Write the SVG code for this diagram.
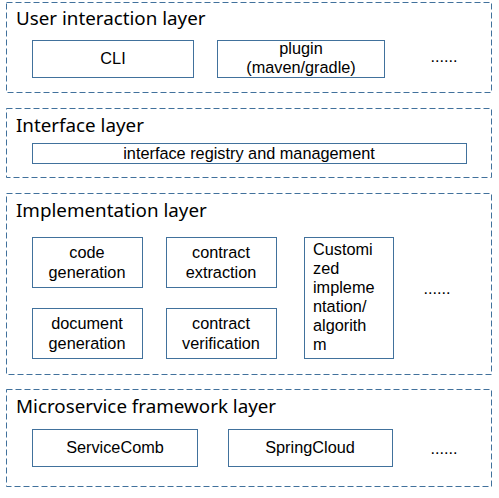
<svg xmlns="http://www.w3.org/2000/svg" width="499" height="498" viewBox="0 0 499 498">
<style>
.layer{fill:none;stroke:#41719C;stroke-width:1;stroke-dasharray:6 3}
.box{fill:#fff;stroke:#41719C;stroke-width:1}
.title{font-family:"Noto Sans",sans-serif;font-size:18.8px;fill:#000}
.t{font-family:"Liberation Sans",Arial,sans-serif;font-size:16.3px;fill:#000;text-anchor:middle}
.tl{font-family:"Liberation Sans",Arial,sans-serif;font-size:16.3px;fill:#000}
</style>
<rect width="499" height="498" fill="#fff"/>
<g id="layer-user">
<rect class="layer" x="6.5" y="2.5" width="485" height="90"/>
<text class="title" x="16" y="25">User interaction layer</text>
</g>
<g id="node-cli"><rect class="box" x="32.5" y="40.5" width="161" height="37"/><text class="t" x="113" y="64">CLI</text></g>
<g id="node-plugin"><rect class="box" x="217.5" y="40.5" width="167" height="37"/><text class="t" x="301" y="54">plugin</text><text class="t" x="301" y="73">(maven/gradle)</text></g>
<g id="node-more1"><text class="t" x="444" y="62">......</text></g>

<g id="layer-interface">
<rect class="layer" x="6.5" y="108.5" width="485" height="69"/>
<text class="title" x="16" y="132">Interface layer</text>
</g>
<g id="node-registry"><rect class="box" x="32.5" y="143.5" width="434" height="20"/><text class="t" x="249" y="159">interface registry and management</text></g>

<g id="layer-impl">
<rect class="layer" x="6.5" y="193.5" width="485" height="181"/>
<text class="title" x="16" y="217">Implementation layer</text>
</g>
<g id="node-codegen"><rect class="box" x="32.5" y="237.5" width="110" height="50"/><text class="t" x="87" y="258">code</text><text class="t" x="87" y="278">generation</text></g>
<g id="node-extract"><rect class="box" x="166.5" y="237.5" width="110" height="50"/><text class="t" x="221" y="258">contract</text><text class="t" x="221" y="278">extraction</text></g>
<g id="node-docgen"><rect class="box" x="32.5" y="308.5" width="110" height="50"/><text class="t" x="87" y="329">document</text><text class="t" x="87" y="349">generation</text></g>
<g id="node-verify"><rect class="box" x="166.5" y="308.5" width="110" height="50"/><text class="t" x="221" y="329">contract</text><text class="t" x="221" y="349">verification</text></g>
<g id="node-custom"><rect class="box" x="304.5" y="237.5" width="89" height="121"/>
<text class="tl" x="313" y="255">Customi</text>
<text class="tl" x="313" y="274">zed</text>
<text class="tl" x="313" y="293">impleme</text>
<text class="tl" x="313" y="312">ntation/</text>
<text class="tl" x="313" y="331">algorith</text>
<text class="tl" x="313" y="350">m</text>
</g>
<g id="node-more2"><text class="t" x="437" y="294">......</text></g>

<g id="layer-framework">
<rect class="layer" x="6.5" y="389.5" width="485" height="97"/>
<text class="title" x="16" y="413">Microservice framework layer</text>
</g>
<g id="node-servicecomb"><rect class="box" x="32.5" y="429.5" width="165" height="37"/><text class="t" x="115" y="453">ServiceComb</text></g>
<g id="node-springcloud"><rect class="box" x="228.5" y="429.5" width="164" height="37"/><text class="t" x="310" y="453">SpringCloud</text></g>
<g id="node-more3"><text class="t" x="444" y="454">......</text></g>
<g id="connectors"></g>
</svg>
